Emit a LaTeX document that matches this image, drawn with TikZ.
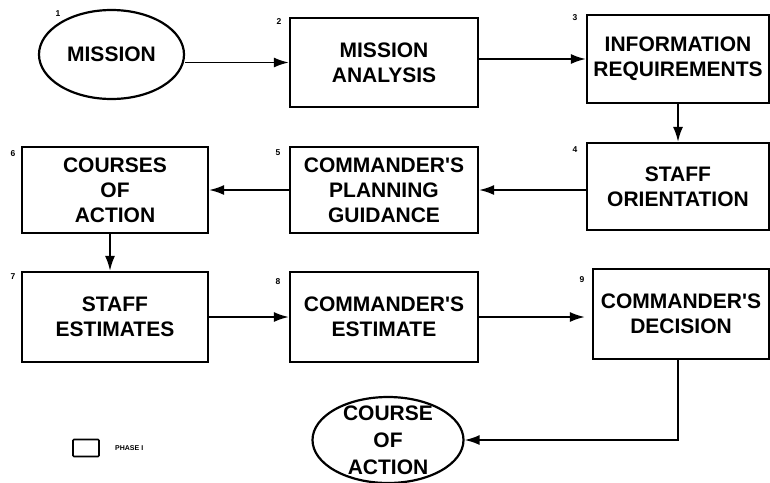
\documentclass[tikz,border=0pt]{standalone}
\usepackage{fontspec}
\setmainfont{Liberation Sans}
\usetikzlibrary{shapes.geometric,arrows.meta}
\begin{document}
\begin{tikzpicture}[x=1pt,y=-1pt,
  every node/.style={font=\bfseries\fontsize{21}{25}\selectfont},
  box/.style={draw,line width=2.2pt,inner sep=0pt,align=center},
  oval/.style={draw,ellipse,line width=2.2pt,inner sep=0pt,align=center},
  num/.style={font=\bfseries\fontsize{8.5}{8.5}\selectfont,inner sep=0pt},
  arr/.style={line width=1.9pt,-{Latex[length=15pt,width=10pt]}}]
\useasboundingbox (0,0) rectangle (770,482);
% nodes
\node[oval,minimum width=145,minimum height=89] (mission) at (111.5,54.5) {MISSION};
\node[box,minimum width=188,minimum height=89] (b2) at (384,62.5) {MISSION\\ANALYSIS};
\node[box,minimum width=182,minimum height=88] (b3) at (678,59) {INFORMATION\\REQUIREMENTS};
\node[box,minimum width=182,minimum height=87] (b4) at (678,186.5) {STAFF\\ORIENTATION};
\node[box,minimum width=188,minimum height=86] (b5) at (384,190) {COMMANDER\textquotesingle S\\PLANNING\\GUIDANCE};
\node[box,minimum width=186,minimum height=86] (b6) at (115,190) {COURSES\\OF\\ACTION};
\node[box,minimum width=186,minimum height=90] (b7) at (115,317) {STAFF\\ESTIMATES};
\node[box,minimum width=188,minimum height=90] (b8) at (384,317) {COMMANDER\textquotesingle S\\ESTIMATE};
\node[box,minimum width=176,minimum height=90] (b9) at (681,314) {COMMANDER\textquotesingle S\\DECISION};
\node[oval,minimum width=151,minimum height=86] (coa) at (388,440) {};
\node[align=center,inner sep=0pt,font=\bfseries\fontsize{21}{27}\selectfont] (coatext) at (388,440) {COURSE\\OF\\ACTION};
% numbers
\node[num] (n1) at (58,14) {1};
\node[num] (n2) at (279,22) {2};
\node[num] (n3) at (575,18) {3};
\node[num] (n4) at (575,150) {4};
\node[num] (n5) at (278,153) {5};
\node[num] (n6) at (13,154) {6};
\node[num] (n7) at (13,277) {7};
\node[num] (n8) at (278,282) {8};
\node[num] (n9) at (582,280) {9};
% legend
\node[draw,line width=1.6pt,rounded corners=1pt,minimum width=26,minimum height=17,inner sep=0pt] (leg) at (86,448) {};
\node[font=\bfseries\fontsize{7}{7}\selectfont,inner sep=0pt,anchor=west] (legt) at (115,448) {PHASE I};
% connectors
\draw[arr] (b2.west -| mission.east) -- (b2.west);
\draw[arr] (b3.west -| b2.east) -- (b3.west);
\draw[arr] (b3.south) -- (b4.north);
\draw[arr] (b4.west |- b5.east) -- (b5.east);
\draw[arr] (b5.west) -- (b6.east |- b5.west);
\draw[arr] ([xshift=-5pt]b6.south) -- ([xshift=-5pt]b7.north);
\draw[arr] (b7.east) -- (b8.west);
\draw[arr,shorten >=7pt] (b8.east) -- (b9.west |- b8.east);
\draw[arr] ([xshift=-3pt]b9.south) |- (coa.east);
\end{tikzpicture}
\end{document}
